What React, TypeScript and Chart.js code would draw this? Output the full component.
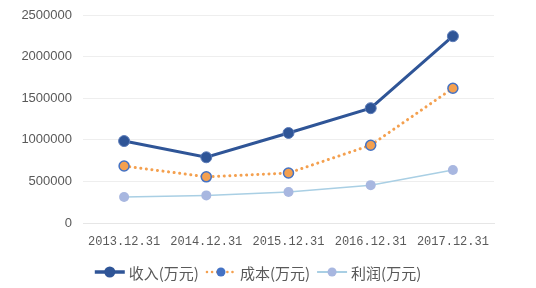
import React, { useEffect, useRef } from "react";
import { Chart, registerables } from "chart.js";

Chart.register(...registerables);

const categories = ["2013.12.31", "2014.12.31", "2015.12.31", "2016.12.31", "2017.12.31"];
const revenue = [985000, 790000, 1082000, 1380000, 2245000];
const cost = [685000, 555000, 601000, 935000, 1620000];
const profit = [312000, 332000, 372000, 455000, 637000];
const seriesNames = ["收入(万元)", "成本(万元)", "利润(万元)"];
const yTicks = [0, 500000, 1000000, 1500000, 2000000, 2500000];

const REV = "#2F5597";
const COST = "#F4A04F";
const COST_BORDER = "#4472C4";
const PROFIT_LINE = "#A9CFE4";
const PROFIT_PT = "#A8B7E0";

const legendPlugin = {
  id: "customLegend",
  afterDraw(chart: any) {
    const ctx = chart.ctx;
    const font = "15px 'Noto Sans CJK SC', sans-serif";
    ctx.save();
    ctx.font = font;
    const items = [
      { name: seriesNames[0], kind: 0 },
      { name: seriesNames[1], kind: 1 },
      { name: seriesNames[2], kind: 2 },
    ];
    const lineW = 30, gap1 = 4, gap2 = 7;
    const widths = items.map((it) => ctx.measureText(it.name).width);
    const total = widths.reduce((a, b) => a + b, 0) + items.length * (lineW + gap1) + (items.length - 1) * gap2;
    let x = 258 - total / 2;
    const y = 272;
    items.forEach((it, i) => {
      const cx = x + lineW / 2;
      ctx.save();
      if (it.kind === 0) {
        ctx.strokeStyle = REV; ctx.lineWidth = 3.5;
        ctx.beginPath(); ctx.moveTo(x, y); ctx.lineTo(x + lineW, y); ctx.stroke();
        ctx.fillStyle = REV; ctx.beginPath(); ctx.arc(cx, y, 5.5, 0, Math.PI * 2); ctx.fill();
      } else if (it.kind === 1) {
        ctx.strokeStyle = COST; ctx.lineWidth = 2.5; ctx.lineCap = "round";
        ctx.setLineDash([0.1, 5]);
        ctx.beginPath(); ctx.moveTo(x + 1, y); ctx.lineTo(x + lineW, y); ctx.stroke();
        ctx.setLineDash([]);
        ctx.fillStyle = COST_BORDER; ctx.beginPath(); ctx.arc(cx, y, 4.5, 0, Math.PI * 2); ctx.fill();
      } else {
        ctx.strokeStyle = PROFIT_LINE; ctx.lineWidth = 2;
        ctx.beginPath(); ctx.moveTo(x, y); ctx.lineTo(x + lineW, y); ctx.stroke();
        ctx.fillStyle = PROFIT_PT; ctx.beginPath(); ctx.arc(cx, y, 4.5, 0, Math.PI * 2); ctx.fill();
      }
      ctx.restore();
      ctx.fillStyle = "#595959";
      ctx.textBaseline = "middle";
      ctx.textAlign = "left";
      ctx.fillText(it.name, x + lineW + gap1, y + 1);
      x += lineW + gap1 + widths[i] + gap2;
    });
    ctx.restore();
  },
};

export default function App() {
  const ref = useRef<HTMLCanvasElement>(null);
  useEffect(() => {
    if (!ref.current) return;
    const chart = new Chart(ref.current, {
      type: "line",
      data: {
        labels: categories,
        datasets: [
          {
            label: seriesNames[0],
            data: revenue,
            borderColor: REV,
            backgroundColor: REV,
            borderWidth: 3,
            pointRadius: 5.5,
            pointBackgroundColor: REV,
            pointBorderColor: "#5B7BB8",
            pointBorderWidth: 1,
            tension: 0,
          },
          {
            label: seriesNames[1],
            data: cost,
            borderColor: COST,
            borderWidth: 3,
            borderDash: [0.1, 5.5],
            borderCapStyle: "round",
            pointRadius: 5,
            pointBackgroundColor: COST,
            pointBorderColor: COST_BORDER,
            pointBorderWidth: 1.5,
            tension: 0,
          },
          {
            label: seriesNames[2],
            data: profit,
            borderColor: PROFIT_LINE,
            borderWidth: 1.5,
            pointRadius: 5,
            pointBackgroundColor: PROFIT_PT,
            pointBorderColor: PROFIT_PT,
            pointBorderWidth: 0,
            tension: 0,
          },
        ],
      },
      options: {
        animation: false,
        responsive: false,
        maintainAspectRatio: false,
        layout: { padding: { left: 0, right: 42, top: 15, bottom: 35 } },
        plugins: { legend: { display: false }, tooltip: { enabled: false } },
        scales: {
          x: {
            offset: true,
            grid: { display: false, drawTicks: false },
            border: { display: true, color: "#E6E6E6", width: 1 },
            ticks: {
              color: "#595959",
              font: { family: "'Liberation Mono', monospace", size: 12 },
              padding: 12,
              maxRotation: 0,
              autoSkip: false,
            },
            afterFit: (s: any) => { s.height = 30; s.paddingLeft = 0; s.paddingRight = 0; },
          },
          y: {
            min: 0,
            max: 2500000,
            afterBuildTicks: (s: any) => { s.ticks = yTicks.map((v) => ({ value: v })); },
            grid: { color: "#EEEEEE", drawTicks: false, lineWidth: 1 },
            border: { display: false },
            ticks: {
              color: "#595959",
              font: { family: "'Liberation Sans', sans-serif", size: 13 },
              padding: 11,
              callback: (v: any) => String(v),
            },
            afterFit: (s: any) => { s.width = 83; s.paddingTop = 0; s.paddingBottom = 0; },
          },
        },
      },
      plugins: [legendPlugin],
    });
    return () => chart.destroy();
  }, []);
  return (
    <div style={{ position: "absolute", left: 0, top: 0, width: 536, height: 288, background: "#fff" }}>
      <canvas ref={ref} width={536} height={288} style={{ width: 536, height: 288 }} />
    </div>
  );
}
